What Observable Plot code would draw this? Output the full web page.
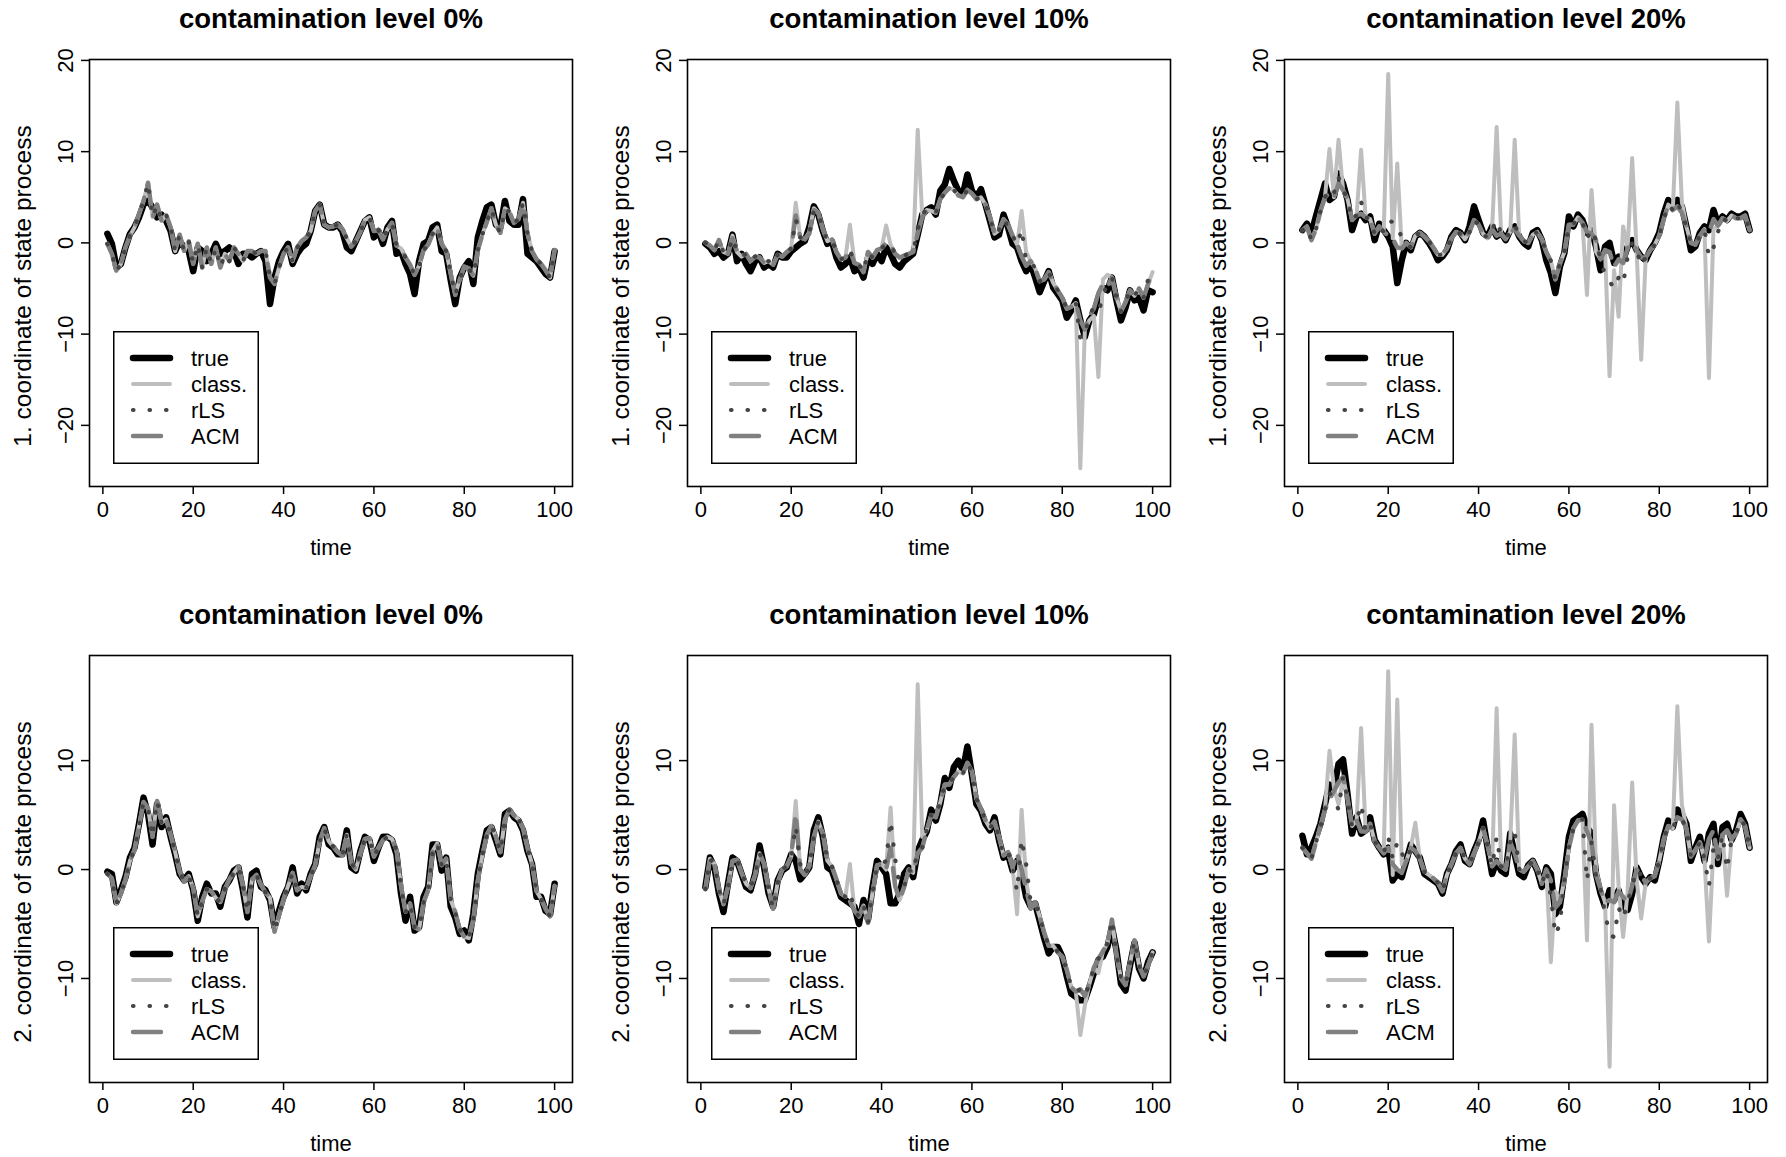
<!DOCTYPE html>
<html><head><meta charset="utf-8">
<script src="https://cdn.jsdelivr.net/npm/d3@7"></script>
<script src="https://cdn.jsdelivr.net/npm/@observablehq/plot@0.6"></script>
<style>
body{margin:0;background:#fff;}
#root{position:relative;width:1786px;height:1157px;background:#fff;overflow:hidden;font-family:"Liberation Sans",Arial,Helvetica,sans-serif;}
.panel{position:absolute;}
.legend{position:absolute;}
</style></head><body><div id="root"></div>
<script>
// ---------- data (time 1..100) ----------
const seriesNames = ["true", "class.", "rLS", "ACM"];
const levels = ["0%", "10%", "20%"];
const xTicks = [0, 20, 40, 60, 80, 100];
const yTicksRow1 = [-20, -10, 0, 10, 20];
const yTicksRow2 = [-10, 0, 10];

// Row 1: 1. coordinate, contamination 0%
const p1_true = [1.0,-0.1,-2.7,-2.3,-0.5,1.0,1.7,2.8,4.2,4.6,3.9,2.8,3.1,2.4,1.3,-0.9,0.2,-0.5,-0.9,-3.1,-0.5,-0.9,-2.0,-1.2,-0.1,-1.2,-0.9,-0.5,-0.9,-2.3,-1.2,-1.2,-1.6,-1.2,-0.9,-2.0,-6.7,-3.8,-2.0,-0.9,-0.1,-2.3,-1.2,-0.5,-0.1,1.3,3.5,4.2,2.0,1.7,
1.7,2.0,1.3,-0.5,-0.9,0.2,1.3,2.4,2.8,0.6,1.3,-0.1,1.7,2.4,-1.2,-0.9,-2.3,-3.4,-5.6,-2.0,-0.1,0.2,1.7,2.0,-0.9,-1.2,-4.1,-6.7,-3.8,-2.7,-2.0,-4.5,0.6,2.4,3.9,4.2,2.0,1.7,4.6,2.4,2.0,2.0,4.8,-1.2,-1.6,-2.0,-2.7,-3.4,-3.8,-0.9];
const p1_class = [-0.1,-1.2,-3.1,-2.3,-0.5,0.8,1.7,3.1,4.6,6.6,2.8,4.2,2.4,3.1,1.7,-0.9,0.9,-0.9,0.2,-2.3,-0.1,-2.7,-0.5,-2.3,-0.5,-2.7,-1.2,-2.0,-0.5,-1.2,-2.0,-0.9,-0.9,-1.2,-0.9,-0.9,-3.8,-4.5,-2.7,-1.2,-0.5,-2.0,-0.5,0.2,0.6,1.3,3.5,4.2,2.0,1.7,
1.8,2.0,1.5,0.5,-0.4,0.2,1.2,2.5,2.8,1.3,1.4,0.4,1.5,2.2,-0.3,-0.6,-1.6,-2.4,-3.5,-2.5,-0.8,-0.2,1.0,1.7,-0.1,-0.9,-3.4,-5.7,-4.0,-2.6,-2.8,-3.6,-0.8,0.9,2.3,3.8,2.0,1.1,3.8,3.4,2.2,2.6,4.4,1.0,-0.9,-1.8,-2.3,-3.0,-3.8,-0.8];
const p1_rLS = p1_class;
const p1_ACM = p1_class;

// Row 1: contamination 10%
const p2_true = [-0.1,-0.5,-1.2,-0.9,-1.6,-1.2,0.9,-2.0,-1.2,-2.3,-3.1,-2.0,-1.6,-2.7,-2.3,-2.7,-1.2,-1.6,-1.6,-0.9,-0.5,-0.1,0.2,1.7,4.0,3.1,1.3,-0.1,0.2,-1.6,-2.7,-2.3,-1.6,-3.1,-2.7,-3.8,-1.6,-2.3,-1.2,-2.0,-0.5,-1.2,-2.3,-2.7,-2.0,-1.6,-1.2,0.9,3.1,3.6,
3.9,3.1,5.7,6.4,8.1,6.8,5.7,5.3,7.5,5.7,5.0,5.9,4.2,2.4,0.6,0.9,3.1,1.7,-0.1,-0.5,-2.0,-3.1,-2.3,-3.8,-5.4,-4.2,-3.1,-4.9,-5.6,-6.3,-8.2,-7.4,-6.3,-8.5,-10.3,-8.5,-7.8,-6.0,-4.9,-5.2,-3.8,-6.3,-8.5,-7.1,-5.2,-6.3,-6.0,-7.4,-5.2,-5.4];
const p2_class = [0.0,-0.3,-0.8,0.3,-1.0,-1.2,0.8,-1.0,-1.5,-1.2,-2.0,-1.5,-1.6,-2.2,-2.0,-2.4,-1.3,-1.5,-1.0,-0.6,4.4,0.6,0.4,1.2,3.8,3.3,1.5,0.2,0.4,-1.0,-1.8,-1.6,2.0,-2.2,-2.4,-3.2,-1.0,-1.6,-0.8,-0.6,1.9,-0.2,-1.2,-1.6,-1.4,-1.2,-1.0,12.4,3.0,3.6,
3.5,3.3,4.8,5.5,6.0,5.8,5.2,5.0,5.8,5.4,4.8,5.0,4.2,2.8,1.0,1.4,2.6,2.0,0.8,-0.2,3.5,-1.0,-2.0,-2.8,-4.2,-4.0,-3.2,-4.4,-5.2,-6.0,-7.2,-7.0,-6.6,-24.7,-9.5,-8.5,-8.0,-14.7,-4.0,-3.5,-3.8,-6.0,-7.5,-6.5,-5.2,-5.8,-5.0,-6.0,-4.5,-3.2];
const p2_rLS = [0.0,-0.3,-0.8,0.3,-1.0,-1.2,0.6,-1.0,-1.5,-1.2,-2.0,-1.5,-1.6,-2.2,-2.0,-2.4,-1.3,-1.5,-1.0,-0.6,2.6,0.6,0.4,1.0,3.6,3.3,1.5,0.2,0.4,-1.0,-1.8,-1.6,-0.8,-2.2,-2.4,-3.2,-1.0,-1.6,-0.8,-0.6,0.0,-0.2,-1.2,-1.6,-1.4,-1.2,-1.0,1.5,3.0,3.8,
3.5,3.3,4.8,5.5,6.0,5.8,5.2,5.0,5.8,5.4,4.8,5.0,4.2,2.8,1.0,1.4,2.6,1.8,0.8,-0.2,1.5,-2.0,-2.0,-2.8,-4.2,-4.0,-3.2,-4.4,-5.2,-6.0,-7.2,-7.0,-6.6,-10.5,-10.0,-8.0,-7.0,-7.5,-6.0,-4.2,-3.8,-6.0,-7.5,-6.5,-5.2,-5.8,-5.0,-6.0,-4.0,-3.2];
const p2_ACM = [0.0,-0.3,-0.8,0.3,-1.0,-1.2,0.5,-1.0,-1.5,-1.2,-2.0,-1.5,-1.6,-2.2,-2.0,-2.4,-1.3,-1.5,-1.0,-0.6,3.0,0.6,0.4,1.0,3.6,3.3,1.5,0.2,0.4,-1.0,-1.8,-1.6,-0.8,-2.2,-2.4,-3.2,-1.0,-1.6,-0.8,-0.6,0.0,-0.2,-1.2,-1.6,-1.4,-1.2,-1.0,1.0,2.8,3.6,
3.5,3.3,4.8,5.5,6.0,5.8,5.2,5.0,5.8,5.4,4.8,5.0,4.2,2.8,1.0,1.4,2.6,2.0,0.8,-0.2,-1.5,-2.5,-2.0,-2.8,-4.2,-4.0,-3.2,-4.4,-5.2,-6.0,-7.2,-7.0,-6.6,-8.5,-9.5,-8.0,-7.2,-5.5,-4.5,-4.8,-3.8,-6.0,-7.5,-6.5,-5.2,-5.8,-5.0,-6.0,-4.5,-3.2];

// Row 1: contamination 20%
const p3_true = [1.4,2.1,1.1,2.9,4.7,6.5,4.7,5.1,7.6,6.5,4.7,1.4,2.9,3.2,2.5,2.9,0.3,2.1,1.4,0.7,-0.4,-4.4,-1.9,0.0,-0.8,0.7,1.1,0.7,0.0,-0.8,-1.9,-1.5,-0.8,0.7,1.4,1.1,0.3,1.8,4.0,2.5,1.1,0.7,1.8,0.7,1.1,0.3,1.4,1.8,0.7,0.0,
-0.4,1.1,1.4,0.3,-1.9,-3.3,-5.5,-2.6,-1.1,2.9,1.8,3.1,2.5,1.1,1.4,-0.4,-3.0,-0.4,0.0,-2.2,-1.5,-1.9,-0.4,0.3,-0.8,-1.5,-1.9,-0.8,0.0,1.1,3.2,4.7,4.0,4.7,4.0,1.8,-0.8,-0.4,1.1,1.8,1.4,3.6,2.1,2.9,2.5,3.2,2.9,2.9,3.2,1.4];
const p3_class = [1.4,1.8,0.3,1.5,3.5,5.0,10.3,5.0,11.3,5.8,4.8,2.5,3.0,10.2,2.8,2.6,1.0,1.8,1.2,18.5,0.5,8.7,-0.6,0.0,-0.5,0.8,1.1,0.7,0.2,-0.5,-1.3,-1.3,-0.6,0.5,1.2,1.0,0.4,1.2,2.5,2.0,1.0,0.5,1.5,12.7,1.0,0.4,1.2,11.3,0.8,0.2,
0.0,0.9,1.2,0.4,-1.0,-2.0,-4.0,-2.3,-1.0,2.0,2.0,2.8,2.2,-5.7,5.8,-1.0,-1.8,-0.8,-14.6,-3.0,-8.1,1.8,-0.6,9.3,-1.0,-12.8,-1.6,-0.8,-0.2,0.8,2.6,4.2,3.6,15.4,4.5,1.8,0.0,-0.2,0.8,1.5,-14.8,1.5,1.9,2.7,2.4,3.0,2.7,2.7,3.0,1.4];
const p3_rLS = [1.4,1.8,0.3,1.5,3.5,5.0,6.0,5.5,7.2,5.8,4.8,2.5,3.0,4.5,2.8,2.6,1.0,1.8,1.2,2.4,2.3,2.0,0.5,0.0,-0.5,0.8,1.1,0.7,0.2,-0.5,-1.3,-1.3,-0.6,0.5,1.2,1.0,0.4,1.2,2.5,2.0,1.0,0.5,1.5,2.5,1.0,0.4,1.2,2.0,0.8,0.2,
0.0,0.9,1.2,0.4,-1.0,-2.0,-4.0,-2.3,-1.0,2.0,2.0,2.8,2.2,0.5,1.5,0.3,-1.8,-3.5,-4.2,-5.0,-3.8,-4.5,-1.5,0.0,-0.8,-2.5,-1.6,-0.8,-0.2,0.8,2.6,4.2,3.6,4.5,3.3,1.8,0.0,-0.2,0.8,1.5,-1.5,-0.5,1.2,2.7,2.4,3.0,2.7,2.7,3.0,1.4];
const p3_ACM = [1.4,1.8,0.3,1.5,3.5,5.0,5.5,5.0,6.5,5.8,4.8,2.5,3.0,3.2,2.8,2.6,1.0,1.8,1.2,0.8,0.5,-0.5,-0.6,0.0,-0.5,0.8,1.1,0.7,0.2,-0.5,-1.3,-1.3,-0.6,0.5,1.2,1.0,0.4,1.2,2.5,2.0,1.0,0.5,1.5,0.8,1.0,0.4,1.2,1.5,0.8,0.2,
0.0,0.9,1.2,0.4,-1.0,-2.0,-4.0,-2.3,-1.0,2.0,2.0,2.8,2.2,1.2,1.0,0.3,-1.8,-0.8,-1.0,-2.6,-1.8,-2.2,-0.6,0.0,-0.8,-1.6,-1.6,-0.8,-0.2,0.8,2.6,4.2,3.6,4.0,3.3,1.8,0.0,-0.2,0.8,1.5,1.2,2.6,1.9,2.7,2.4,3.0,2.7,2.7,3.0,1.4];

// Row 2: 2. coordinate, contamination 0%
const p4_true = [-0.2,-0.4,-3.0,-1.9,-0.7,1.1,2.0,4.2,6.6,5.1,2.3,6.0,3.9,4.8,3.0,1.4,-0.4,-1.0,-0.4,-1.9,-4.7,-2.5,-1.3,-2.2,-2.2,-3.4,-1.6,-1.0,-0.1,0.2,-1.9,-4.4,-0.4,-0.1,-1.6,-1.9,-2.8,-5.3,-3.8,-2.5,-1.6,0.2,-2.2,-1.3,-1.9,-0.4,0.5,3.0,3.9,2.3,
2.0,1.4,1.4,3.6,0.2,-0.1,1.7,3.0,2.7,0.8,2.0,3.0,3.0,2.7,1.4,-2.2,-4.7,-2.5,-5.6,-5.3,-2.5,-1.6,2.3,2.3,-0.1,1.1,-3.4,-4.4,-5.9,-5.6,-6.5,-4.1,-0.4,1.7,3.6,3.9,2.7,1.4,5.1,5.4,4.8,4.5,3.6,1.7,0.5,-2.5,-2.5,-3.8,-4.1,-1.3];
const p4_class = [-0.4,-0.8,-3.1,-2.2,-0.9,0.8,1.8,4.0,6.2,5.6,3.0,6.3,4.3,4.6,3.2,1.6,-0.2,-1.1,-0.6,-1.7,-4.3,-2.9,-1.8,-2.0,-2.6,-3.0,-1.8,-0.9,-0.3,0.3,-1.5,-3.9,-0.9,-0.5,-1.4,-2.1,-2.6,-5.7,-4.2,-2.7,-1.5,-0.3,-1.9,-1.6,-1.7,-0.6,0.4,2.6,3.8,2.6,
2.1,1.6,1.3,3.2,0.6,0.0,1.5,2.8,2.9,1.2,2.0,2.7,3.0,2.8,1.8,-1.5,-3.9,-3.1,-5.3,-5.5,-3.0,-1.9,1.7,2.4,0.4,1.0,-2.8,-3.9,-5.5,-6.2,-6.3,-4.6,-1.0,1.3,3.2,4.0,3.0,1.6,4.6,5.5,5.0,4.6,3.8,2.0,0.5,-2.0,-2.7,-3.6,-4.3,-1.5];
const p4_rLS = p4_class;
const p4_ACM = p4_class;

// Row 2: contamination 10%
const p5_true = [-1.6,1.1,0.2,-2.2,-3.9,-1.3,1.1,0.8,-0.4,-1.6,-1.9,-0.4,2.2,0.2,-2.2,-3.4,-1.0,-0.1,0.2,1.4,0.8,-0.9,-0.4,0.2,3.6,4.8,3.0,0.2,-0.1,-1.3,-2.5,-2.8,-3.1,-3.4,-5.0,-2.8,-4.6,-1.6,0.8,0.2,-0.4,-3.1,-3.1,-2.2,-0.4,0.2,-0.7,1.7,2.7,3.5,
5.5,4.5,6.0,8.4,7.5,9.4,10.0,9.1,11.3,8.7,6.0,5.4,4.2,3.6,4.8,2.7,1.1,1.4,-0.1,0.8,-0.4,-2.5,-3.4,-3.1,-4.7,-6.3,-7.7,-7.1,-7.1,-8.0,-9.8,-11.4,-11.7,-12.0,-12.0,-10.8,-9.5,-8.3,-8.0,-7.1,-5.3,-7.4,-10.5,-11.1,-8.8,-6.7,-9.1,-10.0,-8.5,-7.6];
const p5_class = [-1.8,1.0,0.5,-1.8,-3.2,-1.6,0.8,0.9,-0.3,-1.3,-1.7,-0.5,1.5,0.5,-1.8,-3.6,-1.2,0.0,0.3,1.2,6.3,0.0,-0.5,0.3,3.0,4.4,3.3,0.8,0.3,-0.9,-2.2,-2.5,0.5,-3.8,-4.3,-3.3,-4.9,-2.1,0.4,0.5,0.0,5.7,-1.5,-2.8,-1.6,0.0,-0.3,17.0,3.0,3.6,
5.0,4.8,6.2,7.8,7.8,8.5,9.0,8.8,9.8,9.0,6.5,5.6,4.5,3.8,4.4,3.0,1.3,1.6,0.2,-4.1,5.5,-1.0,-3.6,-3.0,-4.3,-5.8,-7.0,-7.0,-7.6,-8.0,-9.2,-10.8,-11.2,-15.2,-12.5,-10.5,-9.0,-9.5,-7.5,-6.8,-4.6,-7.8,-10.0,-10.6,-8.6,-6.5,-8.8,-9.8,-8.8,-7.6];
const p5_rLS = [-1.8,1.0,0.5,-1.8,-3.2,-1.6,0.8,0.9,-0.3,-1.3,-1.7,-0.5,1.5,0.5,-1.8,-3.6,-1.2,0.0,0.3,1.2,4.0,0.5,-0.5,0.3,3.0,4.4,3.3,0.8,0.3,-0.9,-2.2,-2.5,-2.0,-3.8,-4.3,-3.3,-4.9,-2.1,0.4,0.5,0.8,4.5,1.0,-1.5,-1.6,0.0,-0.3,1.8,2.0,3.6,
5.0,4.8,6.2,7.8,7.8,8.5,9.0,8.8,9.8,9.0,6.5,5.6,4.5,3.8,4.4,3.0,1.3,1.6,0.2,-2.0,2.8,0.5,-3.0,-3.0,-4.3,-5.8,-7.0,-7.0,-7.6,-8.0,-9.2,-10.8,-11.2,-11.0,-11.6,-10.5,-9.0,-8.2,-7.5,-6.8,-4.6,-7.8,-10.0,-10.6,-8.6,-6.5,-8.8,-9.8,-8.8,-7.6];
const p5_ACM = [-1.8,1.0,0.5,-1.8,-3.2,-1.6,0.8,0.9,-0.3,-1.3,-1.7,-0.5,1.5,0.5,-1.8,-3.6,-1.2,0.0,0.3,1.2,5.1,0.0,-0.5,0.3,3.0,4.4,3.3,0.8,0.3,-0.9,-2.2,-2.5,-2.9,-3.8,-4.3,-3.3,-4.9,-2.1,0.4,0.5,0.0,2.0,-1.5,-2.8,-1.6,0.0,-0.3,1.5,2.0,3.6,
5.0,4.8,6.2,7.8,7.8,8.5,9.0,8.8,9.8,9.0,6.5,5.6,4.5,3.8,4.4,3.0,1.3,1.6,0.2,1.5,0.0,-1.8,-3.6,-3.0,-4.3,-5.8,-7.0,-7.0,-7.6,-8.0,-9.2,-10.8,-11.2,-11.0,-11.6,-10.5,-9.0,-8.2,-7.5,-6.8,-4.6,-7.8,-10.0,-10.6,-8.6,-6.5,-8.8,-9.8,-8.8,-7.6];

// Row 2: contamination 20%
const p6_true = [3.1,1.4,2.0,3.0,4.2,6.0,7.8,7.5,9.7,10.1,6.9,3.3,4.8,3.3,3.6,4.8,2.7,2.0,1.4,2.0,-1.0,-0.4,-0.7,0.8,2.3,1.7,1.1,-0.4,-0.7,-1.0,-1.3,-2.2,-0.4,0.5,1.7,2.3,0.8,0.5,1.7,2.7,4.5,2.0,-0.4,0.8,-0.1,-0.4,3.3,1.4,-0.4,-0.7,
0.4,0.8,-0.1,-1.6,0.2,-0.4,-4.1,-3.4,-0.4,3.0,4.5,4.8,5.1,3.9,3.3,-0.4,-2.2,-3.4,-1.9,-2.8,-1.9,-3.4,-3.7,-2.2,0.2,-0.7,-1.3,-0.7,-1.0,0.8,3.0,4.5,3.9,5.5,5.1,4.2,0.8,2.0,3.0,0.8,3.3,4.2,0.5,3.9,4.2,2.7,3.6,5.1,4.2,2.0];
const p6_class = [2.0,1.5,1.0,2.5,4.0,5.5,10.9,7.5,6.0,8.5,6.5,4.0,4.5,13.0,3.5,4.2,2.6,2.0,1.5,18.2,-0.5,15.6,0.5,0.8,2.0,4.3,1.0,-0.2,-0.5,-0.8,-1.2,-2.0,-0.5,0.5,1.5,2.0,1.0,0.5,1.5,2.5,3.8,2.2,0.3,14.8,0.3,0.0,2.5,12.4,0.0,-0.2,
0.3,0.8,0.0,-1.3,0.0,-8.5,-2.0,-3.0,-1.0,2.0,3.8,4.5,4.6,-6.5,13.3,0.0,-1.8,-3.0,-18.1,5.9,-1.5,-6.2,-2.0,8.0,-1.0,-4.5,-1.2,-0.8,-0.6,0.8,2.8,4.0,3.8,15.0,6.0,3.8,1.2,1.8,2.5,1.0,-6.6,2.0,1.0,3.2,-2.4,2.8,3.3,4.6,4.0,2.0];
const p6_rLS = [2.0,1.5,1.0,2.5,4.0,5.5,7.0,6.5,5.5,8.5,6.5,4.0,4.5,6.0,3.5,4.2,2.6,2.0,1.5,3.0,1.0,2.5,1.5,0.8,2.0,1.7,1.0,-0.2,-0.5,-0.8,-1.2,-2.0,-0.5,0.5,1.5,2.0,1.0,0.5,1.5,2.5,3.8,2.2,0.3,3.0,0.3,0.0,2.5,3.5,0.0,-0.2,
0.3,0.8,0.0,-1.3,0.0,-2.5,-6.0,-5.0,-1.0,2.0,3.8,4.5,4.6,-1.0,2.5,-0.5,-1.8,-4.0,-6.0,-6.2,-3.5,-4.5,-3.0,-1.5,0.0,-0.5,-1.2,-0.8,-0.6,0.8,2.8,4.0,3.8,4.8,4.6,3.8,1.2,1.8,2.5,1.0,-1.5,2.0,1.0,3.2,0.0,2.8,3.3,4.6,4.0,2.0];
const p6_ACM = [2.0,1.5,1.0,2.5,4.0,5.5,6.5,7.2,8.0,8.5,6.5,4.0,4.5,3.5,3.5,4.2,2.6,2.0,1.5,2.0,0.5,0.0,-0.3,0.8,2.0,1.7,1.0,-0.2,-0.5,-0.8,-1.2,-2.0,-0.5,0.5,1.5,2.0,1.0,0.5,1.5,2.5,3.8,2.2,0.3,0.8,0.3,0.0,2.5,1.5,0.0,-0.2,
0.3,0.8,0.0,-1.3,0.0,-1.0,-3.5,-3.0,-1.0,2.0,3.8,4.5,4.6,3.5,2.5,-0.5,-1.8,-3.0,-2.8,-3.0,-2.0,-2.5,-3.0,-1.5,0.0,-0.5,-1.2,-0.8,-0.6,0.8,2.8,4.0,3.8,4.8,4.6,3.8,1.2,1.8,2.5,1.0,2.8,3.6,1.0,3.2,3.6,2.8,3.3,4.6,4.0,2.0];

// ---------- layout ----------
const FONT = '"Liberation Sans", Arial, Helvetica, sans-serif';
const W = 595, H = 578, mL = 89, mT = 59, mR = 23, mB = 92;
const colLeft = [0, 598, 1195];
const rowTop = [0, 596];
const styles = {
  "true":   {stroke: "#000000", strokeWidth: 6.5, dash: null},
  "class.": {stroke: "#bebebe", strokeWidth: 4,   dash: null},
  "rLS":    {stroke: "#444444", strokeWidth: 4.2, dash: "0.5,16"},
  "ACM":    {stroke: "#808080", strokeWidth: 4.5, dash: "28,12"}
};
const drawOrder = ["true", "class.", "ACM", "rLS"];

const panels = [
  {row: 0, col: 0, s: {"true": p1_true, "class.": p1_class, "rLS": p1_rLS, "ACM": p1_ACM}},
  {row: 0, col: 1, s: {"true": p2_true, "class.": p2_class, "rLS": p2_rLS, "ACM": p2_ACM}},
  {row: 0, col: 2, s: {"true": p3_true, "class.": p3_class, "rLS": p3_rLS, "ACM": p3_ACM}},
  {row: 1, col: 0, s: {"true": p4_true, "class.": p4_class, "rLS": p4_rLS, "ACM": p4_ACM}},
  {row: 1, col: 1, s: {"true": p5_true, "class.": p5_class, "rLS": p5_rLS, "ACM": p5_ACM}},
  {row: 1, col: 2, s: {"true": p6_true, "class.": p6_class, "rLS": p6_rLS, "ACM": p6_ACM}}
];

const root = document.getElementById("root");

for (const p of panels) {
  const yDomain = p.row === 0 ? [-26.7, 20.1] : [-19.55, 19.65];
  const yTicks = p.row === 0 ? yTicksRow1 : yTicksRow2;
  const lineMarks = drawOrder.map(name => {
    const st = styles[name];
    const data = p.s[name].map((v, i) => ({t: i + 1, v}));
    const o = {x: "t", y: "v", stroke: st.stroke, strokeWidth: st.strokeWidth,
               strokeLinejoin: "round", strokeLinecap: "round"};
    if (st.dash) o.strokeDasharray = st.dash;
    return Plot.line(data, o);
  });
  const svg = Plot.plot({
    width: W, height: H,
    marginLeft: mL, marginTop: mT, marginRight: mR, marginBottom: mB,
    style: {fontFamily: FONT, fontSize: "22px", color: "#000", background: "transparent", overflow: "visible"},
    x: {domain: [-2.96, 103.96]},
    y: {domain: yDomain},
    marks: [
      ...lineMarks,
      Plot.frame({stroke: "#000", strokeWidth: 1.6}),
      Plot.axisX({ticks: xTicks, tickSize: 8, tickPadding: 7, label: null, strokeWidth: 1.5, fontSize: 22}),
      Plot.axisY({ticks: yTicks, tickSize: 8, tickPadding: 9, tickRotate: -90, label: null, strokeWidth: 1.5, fontSize: 22}),
      Plot.text([`contamination level ${levels[p.col]}`], {text: d => d, frameAnchor: "top", dy: -40,
        fontWeight: "bold", fontSize: 27.5, textAnchor: "middle", lineAnchor: "middle", fill: "#000"}),
      Plot.text(["time"], {text: d => d, frameAnchor: "bottom", dy: 61, fontSize: 22,
        textAnchor: "middle", lineAnchor: "middle", fill: "#000"}),
      Plot.text([`${p.row + 1}. coordinate of state process`], {text: d => d, frameAnchor: "left", dx: -66, dy: 13,
        rotate: -90, fontSize: 24.5, textAnchor: "middle", lineAnchor: "middle", fill: "#000"})
    ]
  });
  svg.classList.add("panel");
  svg.style.left = colLeft[p.col] + "px";
  svg.style.top = rowTop[p.row] + "px";
  root.appendChild(svg);

  // legend (bottom-left inside the plotting box)
  const lgW = 146, lgH = 133;
  const boxLeft = colLeft[p.col] + mL, boxBottom = rowTop[p.row] + H - mB;
  const lg = d3.create("svg").attr("class", "legend").attr("width", lgW).attr("height", lgH)
    .style("left", (boxLeft + 24) + "px").style("top", (boxBottom - 22 - lgH) + "px");
  lg.append("rect").attr("x", 0.75).attr("y", 0.75).attr("width", lgW - 1.5).attr("height", lgH - 1.5)
    .attr("fill", "#fff").attr("stroke", "#000").attr("stroke-width", 1.5);
  seriesNames.forEach((name, i) => {
    const st = styles[name];
    const y = 27 + i * 26;
    const ln = lg.append("line").attr("x1", 20).attr("x2", 57).attr("y1", y).attr("y2", y)
      .attr("stroke", st.stroke).attr("stroke-width", st.strokeWidth).attr("stroke-linecap", "round");
    if (st.dash) ln.attr("stroke-dasharray", st.dash);
    lg.append("text").attr("x", 78).attr("y", y).attr("dy", "0.36em")
      .attr("font-family", FONT).attr("font-size", 22).attr("fill", "#000").text(name);
  });
  root.appendChild(lg.node());
}
</script>
</body></html>
